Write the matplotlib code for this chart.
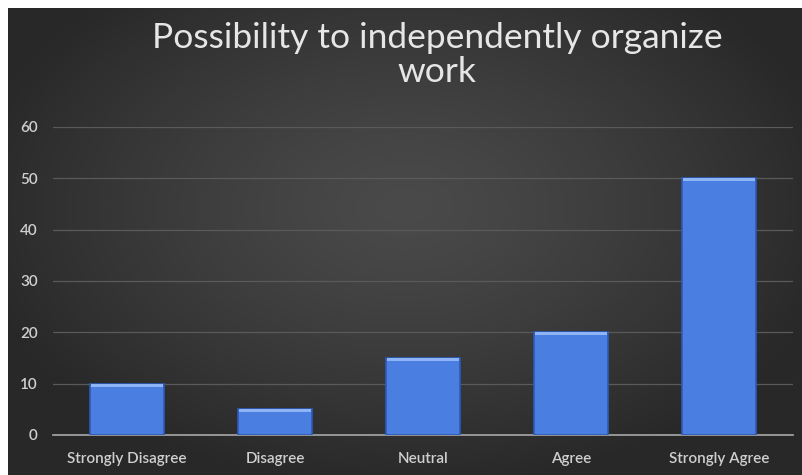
import numpy as np
import matplotlib.pyplot as plt

categories = ["Strongly Disagree", "Disagree", "Neutral", "Agree", "Strongly Agree"]
values = [10, 5, 15, 20, 50]
yticks = [0, 10, 20, 30, 40, 50, 60]

fig = plt.figure(figsize=(8.02, 4.75), dpi=100, facecolor="white")

# dark panel with a soft radial glow behind the chart
bg = fig.add_axes([8 / 802, 0, 1 - 8 / 802, 1 - 8 / 475])
bg.set_axis_off()
gx, gy = np.meshgrid(np.linspace(-1, 1, 400), np.linspace(-1, 1, 240))
r = np.sqrt((gx / 1.1) ** 2 + ((gy + 0.15) / 1.2) ** 2)
shade = 0.29 - 0.13 * np.clip(r, 0, 1) ** 1.3
bg.imshow(np.dstack([shade] * 3), aspect="auto", extent=[0, 1, 0, 1])

ax = fig.add_axes([53 / 802, 40 / 475, 740 / 802, 308 / 475])
ax.patch.set_alpha(0)
x = np.arange(len(categories))
bars = ax.bar(x, values, width=0.5, color="#4a7ee0", edgecolor="#2c5bb8",
              linewidth=1.2, zorder=3)
# light rim along the top of each bar
ax.bar(x, [0.6] * len(values), bottom=np.array(values) - 0.6, width=0.48,
       color="#8fb4f5", linewidth=0, zorder=4)

ax.set_xlim(-0.5, len(categories) - 0.5)
ax.set_ylim(0, 60)
ax.set_yticks(yticks)
ax.set_xticks(x)
ax.set_xticklabels(categories)
ax.grid(axis="y", color="#5a5a5a", linewidth=0.9, zorder=0)
ax.tick_params(length=0, colors="#cfcfcf", labelsize=11, pad=12)
ax.tick_params(axis="y", pad=11)
for lbl in ax.get_xticklabels() + ax.get_yticklabels():
    lbl.set_family("Lato")
    lbl.set_fontweight("semibold")
for side in ["top", "right", "left"]:
    ax.spines[side].set_visible(False)
ax.spines["bottom"].set_color("#a8a8a8")
ax.spines["bottom"].set_linewidth(1.2)

fig.text(437 / 802, 1 - 55 / 475, "Possibility to independently organize\nwork",
         ha="center", va="center", color="#e6e6e6", fontsize=25.5,
         family="Lato", linespacing=1.1)

fig.savefig("out.png", dpi=100, facecolor="white")
